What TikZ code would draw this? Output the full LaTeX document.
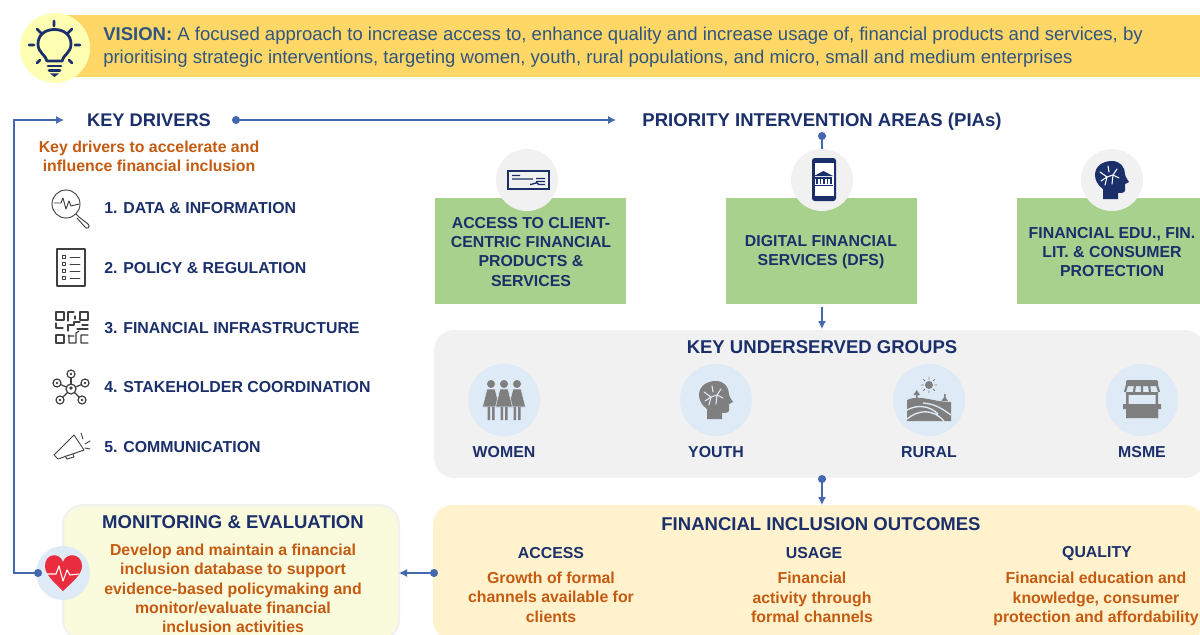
\documentclass[tikz,border=0pt]{standalone}
\usepackage{fontspec}
\setmainfont{Liberation Sans}
\usetikzlibrary{arrows.meta,calc}
\definecolor{navy}{HTML}{1B2F6B}
\definecolor{rust}{HTML}{C55A11}
\definecolor{visblue}{HTML}{2F5580}
\definecolor{link}{HTML}{4468AE}
\definecolor{icongray}{HTML}{7F7F7F}
\definecolor{lineicon}{HTML}{404040}
\definecolor{lightblue}{HTML}{DEEAF6}
\definecolor{panelgray}{HTML}{F1F1F1}
\definecolor{greenbox}{HTML}{A9D18E}
\definecolor{panelorange}{HTML}{FFF2CC}
\definecolor{panelyellow}{HTML}{FAFADC}
\definecolor{bandyellow}{HTML}{FFD766}
\definecolor{bulbyellow}{HTML}{FFFFB3}
\definecolor{heartred}{HTML}{E92D3E}
\tikzset{
  x=0.75pt,y=-0.75pt,
  head/.style={text=navy,font=\bfseries\fontsize{13.9}{16}\selectfont,inner sep=0pt},
  drv/.style={text=navy,font=\bfseries\fontsize{11.9}{14}\selectfont,anchor=west,inner sep=0pt},
  sub/.style={text=navy,font=\bfseries\fontsize{11.9}{14}\selectfont,inner sep=0pt},
  body/.style={text=rust,font=\bfseries\fontsize{11.9}{14.5}\selectfont,align=center,inner sep=0pt},
  greenbg/.style={fill=greenbox,inner sep=0pt,minimum width=143.25pt,minimum height=79.5pt},
  greentext/.style={text=navy,font=\bfseries\fontsize{11.9}{14.3}\selectfont,align=center,inner sep=0pt},
  panel/.style={rounded corners=15pt,inner sep=0pt},
  disc/.style={circle,inner sep=0pt,minimum size=46.5pt},
  bluedisc/.style={circle,inner sep=0pt,minimum size=54pt,fill=lightblue},
  conn/.style={draw=link,line width=1pt,-{Latex[length=6pt,width=6pt]}},
  dotconn/.style={draw=link,line width=1pt,{Circle[length=6pt,width=6pt]}-{Latex[length=6pt,width=6pt]}},
  lic/.style={draw=lineicon,line width=0.7pt,line cap=round,line join=round},
}
% head silhouette, centred at the current origin; #1 fill, #2 brain lines
\newcommand{\headicon}[2]{%
  \fill[#1] (-9,19) -- (-9,9) .. controls (-15,5) and (-17,-1) .. (-17,-5) .. controls (-17,-14) and (-9,-19) .. (0,-19) .. controls (8,-19) and (13,-13) .. (13,-6) .. controls (13,-4) and (15,-1) .. (17,2) -- (13,4) -- (13,10) .. controls (13,13) and (10,13) .. (6,13) -- (6,19) -- cycle;
  \draw[#2,line width=0.8pt,line cap=round] (-12,-8) -- (-5,-3) -- (-7,5) (-5,-3) -- (1,-5) -- (5,-11) (1,-5) -- (7,-2) (-4,-14) -- (-3,-8) (-11,1) -- (-5,-3) (1,-5) -- (0,4);
}
\begin{document}
\begin{tikzpicture}
\useasboundingbox (0,0) rectangle (1200,635);
\clip (0,0) rectangle (1200,635);
\fill[white] (0,0) rectangle (1200,635);

% ---------- vision
\node (band) [fill=bandyellow,inner sep=0pt,minimum width=851.25pt,minimum height=46.5pt] at (632.5,46) {};
\node (bulbdisc) [circle,fill=bulbyellow,inner sep=0pt,minimum size=52.5pt] at (55,48) {};
\begin{scope}[draw=navy,line width=2.1pt,line cap=round,line join=round]
  \draw (47,61) .. controls (46,55) and (38,53) .. (38,44) .. controls (38,35) and (45,29.5) .. (54.5,29.5) .. controls (64,29.5) and (71,35) .. (71,44) .. controls (71,53) and (63,55) .. (62,61) -- cycle;
  \draw (54,21) -- (54,26) (29,45) -- (34,45) (75,45) -- (80,45) (37,29) -- (41,33) (72,29) -- (68,33) (37,63) -- (40,60) (72,63) -- (69,60);
  \draw (48,66) -- (61,66) (49,70.5) -- (60,70.5);
\end{scope}
\fill[navy] (50,73.5) -- (59,73.5) -- (54.5,77) -- cycle;
\node (vision) [anchor=west,inner sep=0pt,text=visblue,align=left,font=\fontsize{13.9}{17.25}\selectfont] at (103,47) {{\bfseries VISION:} A focused approach to increase access to, enhance quality and increase usage of, financial products and services, by\\prioritising strategic interventions, targeting women, youth, rural populations, and micro, small and medium enterprises};

% ---------- headings
\node (kd) [head,font=\bfseries\fontsize{13.7}{16}\selectfont] at (149,120) {KEY DRIVERS};
\node (pia) [head] at (822,122) {PRIORITY INTERVENTION AREAS (PIAs)};
\node (kdsub) [body,font=\bfseries\fontsize{11.9}{14.3}\selectfont] at (149,156) {Key drivers to accelerate and\\influence financial inclusion};

% ---------- drivers
\node (d1) [drv] at (104,208.5) {1. DATA \& INFORMATION};
\node (d2) [drv] at (104,268.5) {2. POLICY \& REGULATION};
\node (d3) [drv] at (104,328) {3. FINANCIAL INFRASTRUCTURE};
\node (d4) [drv] at (104,387.5) {4. STAKEHOLDER COORDINATION};
\node (d5) [drv] at (104,447.5) {5. COMMUNICATION};

% icon 1: magnifier
\draw[lic] (66,204) circle[radius=14];
\draw[lic] (54,203) -- (61,203) -- (63,198) -- (66,209) -- (69,201) -- (71,206) -- (79,204);
\draw[lic] (76,214) -- (79,217) -- (88,224) .. controls (91,227) and (87,230) .. (85,227) -- (77,218);
% icon 2: list
\draw[lic,line width=0.9pt] (57,249) rectangle (85,286);
\foreach \yy in {257,264,271,278}{
  \draw[lic,line width=0.6pt] (62.5,\yy-1.5) rectangle (65.5,\yy+1.5);
  \draw[lic,line width=0.6pt] (70,\yy) -- (80,\yy);
}
% icon 3: QR maze
\begin{scope}[lic,line width=0.9pt]
  \draw (56,312) rectangle (64,320) (80,312) rectangle (88,320) (56,335) rectangle (64,343);
  \draw (68,321) -- (68,312) -- (74,312) (75,319) -- (75,316);
  \draw (56,323) -- (56,328) -- (63,328) (68,331) -- (68,325) -- (74,325) -- (74,322) -- (80,322) (88,325) -- (82,325) (77,329) -- (88,329);
  \draw (69,335) -- (69,343) -- (76,343) -- (76,333) -- (79,331) (68,336) -- (74,336) (88,335) -- (81,335) -- (81,343) -- (88,343);
\end{scope}
% icon 4: network
\begin{scope}[lic,line width=0.9pt]
  \draw (71,389) circle[radius=5];
  \foreach \xx/\yy in {71/374,57/383,85/383,60/400,82/400}{
    \draw (\xx,\yy) circle[radius=4];
    \fill[lineicon] (\xx,\yy) circle[radius=1.4];
    \draw ($(71,389)!3.75pt!(\xx,\yy)$) -- ($(\xx,\yy)!3pt!(71,389)$);
  }
  \fill[lineicon] (71,388) circle[radius=1.8];
\end{scope}
% icon 5: megaphone
\begin{scope}[lic]
  \draw (54,455) -- (74,435) -- (84,450) -- (58,459) -- cycle;
  \draw (65,456) -- (67,459) -- (74,457) -- (73,454);
  \draw (81,433) -- (83,439) (85,444) -- (90,441) (85,448) -- (90,449);
\end{scope}

% ---------- PIA boxes
\node (g1) [greenbg] at (530.5,251) {};
\node (g2) [greenbg] at (821.5,251) {};
\node (g3) [greenbg] at (1112.5,251) {};
\node (c1) [disc,fill=panelgray] at (527,180) {};
\node (c2) [disc,fill=panelgray] at (822,180) {};
\node (c3) [disc,fill=panelgray] at (1112,180) {};
\node (g1t) [greentext] at (531,252) {ACCESS TO CLIENT-\\CENTRIC FINANCIAL\\PRODUCTS \&\\SERVICES};
\node (g2t) [greentext] at (821,252) {DIGITAL FINANCIAL\\SERVICES (DFS)};
\node (g3t) [greentext] at (1112,252) {FINANCIAL EDU., FIN.\\LIT. \& CONSUMER\\PROTECTION};

% cheque
\draw[navy,line width=1.5pt] (507.5,170.5) rectangle (548.5,188.5);
\draw[navy,line width=1pt] (512,175.5) -- (520,175.5) (512,179) -- (533,179) (536,178.5) -- (545,178.5) (536,181.5) -- (545,181.5) (530,184.5) .. controls (534,184.5) and (536,181) .. (539,184.5) -- (545,184.5);
% phone + bank
\fill[navy,rounded corners=2pt] (812,158) rectangle (836,201);
\fill[white] (814.5,163) rectangle (833.5,196);
\fill[navy] (823.5,171) -- (833,176) -- (814,176) -- cycle;
\fill[navy] (815,177) rectangle (832,178.5);
\foreach \xx in {817,820.5,824,827.5,831}{\fill[navy] (\xx-0.9,179) rectangle (\xx+0.9,184);}
\fill[navy] (814.5,184.5) rectangle (832.5,186);
% brain head
\begin{scope}[shift={(1112,180)}]\headicon{navy}{white}\end{scope}

% ---------- underserved panel
\node (ug) [panel,fill=panelgray,minimum width=578pt,minimum height=111pt] at (819.5,404) {};
\node (ugt) [head] at (822,347) {KEY UNDERSERVED GROUPS};
\node (u1) [bluedisc] at (504,400) {};
\node (u2) [bluedisc] at (716,400) {};
\node (u3) [bluedisc] at (929,400) {};
\node (u4) [bluedisc] at (1142,400) {};
\node (u1t) [sub] at (504,452) {WOMEN};
\node (u2t) [sub] at (716,452) {YOUTH};
\node (u3t) [sub] at (929,452) {RURAL};
\node (u4t) [sub] at (1142,452) {MSME};
% women
\foreach \xx in {491,517,504}{
  \fill[icongray] (\xx,384) circle[radius=4];
  \fill[icongray,draw=lightblue,line width=0.4pt] (\xx-4,389) -- (\xx+4,389) -- (\xx+8.5,407) -- (\xx-8.5,407) -- cycle;
  \fill[icongray] (\xx-3.5,407) rectangle (\xx-1,420) (\xx+1,407) rectangle (\xx+3.5,420);
}
% youth head
\begin{scope}[shift={(716,400)}]\headicon{icongray}{lightblue}\end{scope}
% rural
\begin{scope}[shift={(-2,0)}]
\fill[icongray] (931,385) circle[radius=4];
\draw[icongray,line width=0.6pt] \foreach \a in {0,45,...,315}{ ($(931,385)+(\a:5.5)$) -- ($(931,385)+(\a:8)$) };
\fill[icongray] (909,400) .. controls (922,394) and (934,402) .. (953,402) -- (953,421) -- (909,421) -- cycle;
\draw[lightblue,line width=1pt] (909,410) .. controls (920,404) and (932,406) .. (940,414) (909,419) .. controls (920,410) and (934,408) .. (946,421) (925,403) .. controls (940,404) and (948,412) .. (953,415);
\fill[icongray] (918,399) rectangle (919.5,394) (946,399) rectangle (947.5,394);
\fill[icongray] (918.7,390) -- (922,395) -- (915.5,395) -- cycle (946.7,396) -- (950,401) -- (943.5,401) -- cycle;
\end{scope}
% shop
\begin{scope}[shift={(-3,0)}]
\fill[icongray,rounded corners=1pt] (1129,380) rectangle (1161,386);
\draw[icongray,line width=1.6pt] (1128,392) -- (1130,385) (1162,392) -- (1160,385) (1137,392) -- (1138,385) (1153,392) -- (1152,385) (1145,392) -- (1145,385);
\fill[icongray] (1129,392) rectangle (1131.5,418) (1158.5,392) rectangle (1161,418);
\fill[icongray] (1126,404) rectangle (1164,409) (1129,409) rectangle (1161,418);
\fill[icongray] (1129,392) rectangle (1161,395);
\end{scope}

% ---------- outcomes panel
\node (fo) [panel,fill=panelorange,minimum width=579pt,minimum height=101.25pt] at (819,572.5) {};
\node (fot) [head] at (821,524) {FINANCIAL INCLUSION OUTCOMES};
\node (o1) [sub] at (551,553) {ACCESS};
\node (o2) [sub] at (814,553) {USAGE};
\node (o3) [sub] at (1097,554) {QUALITY};
\node (o1t) [body] at (551,597) {Growth of formal\\channels available for\\clients};
\node (o2t) [body] at (812,597.5) {Financial\\activity through\\formal channels};
\node (o3t) [body] at (1096,599) {Financial education and\\knowledge, consumer\\protection and affordability};

% ---------- M&E panel
\node (me) [panel,fill=panelyellow,draw=panelgray,line width=1.5pt,minimum width=252pt,minimum height=101.25pt] at (231,572.5) {};
\node (met) [head] at (233,522) {MONITORING \& EVALUATION};
\node (mebody) [body] at (233,588.5) {Develop and maintain a financial\\inclusion database to support\\evidence-based policymaking and\\monitor/evaluate financial\\inclusion activities};
\node (hd) [bluedisc,minimum size=40.5pt] at (63,573) {};
\fill[heartred] (63,591) .. controls (55,583) and (45,575) .. (45,566) .. controls (45,553) and (60,552) .. (63,562) .. controls (66,552) and (82,553) .. (82,566) .. controls (82,575) and (71,583) .. (63,591) -- cycle;
\draw[white,line width=0.8pt,line join=round] (47,574) -- (56,574) -- (59,566) -- (63,581) -- (67,570) -- (70,575) -- (79,574);

% ---------- connectors
\coordinate (kdout) at (232,120);
\coordinate (kdin) at (64,120);
\coordinate (piaout) at (616,120);
\coordinate (medot) at (42,573);
\coordinate (cor1) at (14,573);
\coordinate (cor2) at (14,120);
\coordinate (piadot) at (822,132);
\coordinate (g2out) at (822,307);
\coordinate (ugin) at (822,329);
\coordinate (ugdot) at (822,475);
\coordinate (foin) at (822,505);
\coordinate (fodot) at (438,573);
\coordinate (mein) at (399,573);
\draw[dotconn] (medot) -- (cor1) -- (cor2) -- (kdin);
\draw[dotconn] (kdout) -- (piaout);
\draw[draw=link,line width=1pt,{Circle[length=6pt,width=6pt]}-] (piadot) -- (c2.north);
\draw[conn] (g2out) -- (ugin);
\draw[dotconn] (ugdot) -- (foin);
\draw[dotconn] (fodot) -- (mein);
\end{tikzpicture}
\end{document}
